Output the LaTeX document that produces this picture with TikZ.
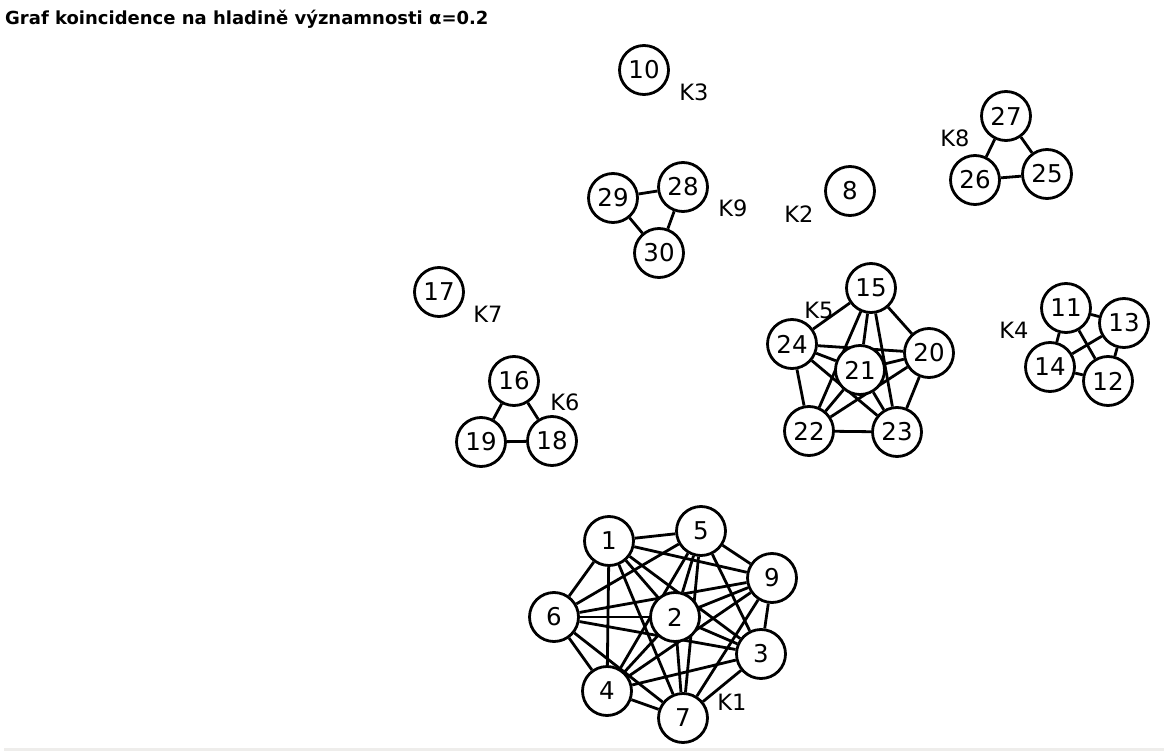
\documentclass[tikz,border=0pt]{standalone}
\usepackage{fontspec}
\setmainfont{DejaVu Sans}
\usetikzlibrary{backgrounds}
\definecolor{pruh}{HTML}{EEEDEB}
\begin{document}
\begin{tikzpicture}[x=1pt, y=-1pt,
    vrchol/.style={circle, draw, line width=2.8pt, fill=white, minimum size=49pt, inner sep=0pt, font=\fontsize{24.5}{24.5}\selectfont},
    komp/.style={font=\fontsize{22.5}{22.5}\selectfont, inner sep=0pt},
    hrana/.style={line width=2.8pt}]
        \useasboundingbox (0, 0) rectangle (1164, 751);
        \fill[pruh] (4, 748) rectangle (1164, 751);

        \node[anchor=west, inner sep=0pt, font=\fontsize{18}{18}\selectfont\bfseries] at (5, 19) (titul) {Graf koincidence na hladině významnosti α=0.2};

        % K1
        \node[vrchol] at (609, 541)  (n1)    {1};
        \node[vrchol] at (701, 531)  (n5)    {5};
        \node[vrchol] at (772, 578)  (n9)    {9};
        \node[vrchol] at (554, 617)  (n6)    {6};
        \node[vrchol] at (675, 617)  (n2)    {2};
        \node[vrchol] at (761, 654)  (n3)    {3};
        \node[vrchol] at (607, 691)  (n4)    {4};
        \node[vrchol] at (683, 718)  (n7)    {7};
        \node[komp]   at (732, 702)  (k1)    {K1};

        % K2, K3, K7
        \node[vrchol] at (850, 191)  (n8)    {8};
        \node[komp]   at (799, 214)  (k2)    {K2};
        \node[vrchol] at (644, 70)   (n10)   {10};
        \node[komp]   at (694, 92)   (k3)    {K3};
        \node[vrchol] at (439, 292)  (n17)   {17};
        \node[komp]   at (488, 314)  (k7)    {K7};

        % K4
        \node[vrchol] at (1066, 308) (n11)   {11};
        \node[vrchol] at (1124, 323) (n13)   {13};
        \node[vrchol] at (1050, 367) (n14)   {14};
        \node[vrchol] at (1108, 381) (n12)   {12};
        \node[komp]   at (1014, 330) (k4)    {K4};

        % K5
        \node[vrchol] at (871, 288)  (n15)   {15};
        \node[vrchol] at (792, 344)  (n24)   {24};
        \node[vrchol] at (929, 353)  (n20)   {20};
        \node[vrchol] at (860, 370)  (n21)   {21};
        \node[vrchol] at (809, 431)  (n22)   {22};
        \node[vrchol] at (897, 432)  (n23)   {23};
        \node[komp]   at (819, 310)  (k5)    {K5};

        % K6
        \node[vrchol] at (514, 381)  (n16)   {16};
        \node[vrchol] at (481, 442)  (n19)   {19};
        \node[vrchol] at (552, 441)  (n18)   {18};
        \node[komp]   at (565, 402)  (k6)    {K6};

        % K8
        \node[vrchol] at (1006, 116) (n27)   {27};
        \node[vrchol] at (975, 180)  (n26)   {26};
        \node[vrchol] at (1047, 174) (n25)   {25};
        \node[komp]   at (955, 138)  (k8)    {K8};

        % K9
        \node[vrchol] at (613, 198)  (n29)   {29};
        \node[vrchol] at (683, 187)  (n28)   {28};
        \node[vrchol] at (659, 253)  (n30)   {30};
        \node[komp]   at (733, 208)  (k9)    {K9};

        \begin{scope}[on background layer]
        \foreach \a in {1,2,3,4,5,6,7,9}
            \foreach \b in {1,2,3,4,5,6,7,9}
                {\ifnum\a<\b \draw[hrana] (n\a) -- (n\b); \fi}
        \foreach \a in {15,20,21,22,23,24}
            \foreach \b in {15,20,21,22,23,24}
                {\ifnum\a<\b \draw[hrana] (n\a) -- (n\b); \fi}
        \foreach \a in {11,12,13,14}
            \foreach \b in {11,12,13,14}
                {\ifnum\a<\b \draw[hrana] (n\a) -- (n\b); \fi}
        \draw[hrana] (n16) -- (n19) -- (n18) -- (n16);
        \draw[hrana] (n27) -- (n26) -- (n25) -- (n27);
        \draw[hrana] (n29) -- (n28) -- (n30) -- (n29);
        \end{scope}
    \end{tikzpicture}
\end{document}
